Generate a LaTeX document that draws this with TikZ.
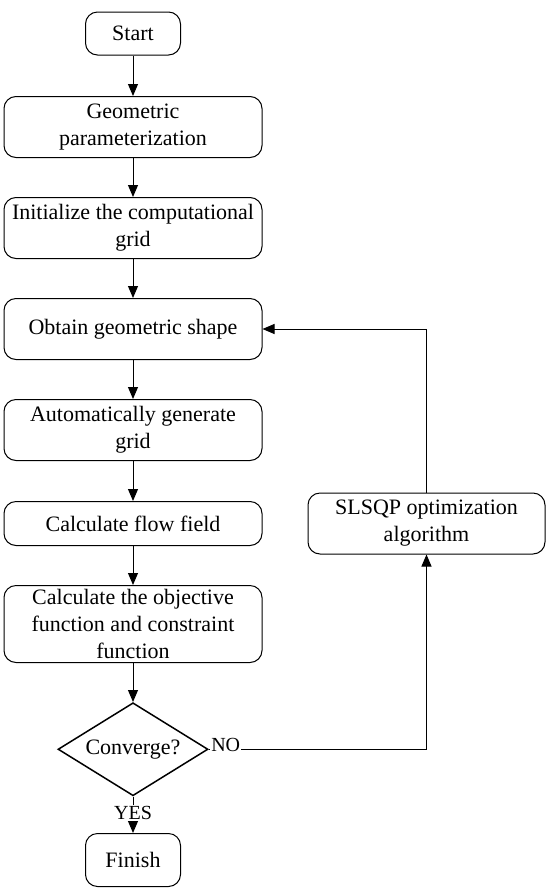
\documentclass[tikz,border=0pt]{standalone}
\usepackage{fontspec}
\setmainfont{Liberation Serif}
\usetikzlibrary{arrows.meta,positioning,shapes.geometric}

\begin{document}
\begin{tikzpicture}[
  x=1pt, y=1pt,
  node distance=39pt,
  font=\fontsize{22}{27}\selectfont,
  box/.style={rectangle, rounded corners=12pt, draw, line width=1pt, align=center, minimum width=258pt, minimum height=61pt, inner xsep=2pt, inner ysep=1pt},
  termbox/.style={rectangle, rounded corners=12pt, draw, line width=1pt, align=center, minimum width=95pt, minimum height=43pt},
  decision/.style={diamond, draw, line width=1.5pt, shape aspect=1.6, inner sep=0pt, minimum width=150pt, minimum height=93pt},
  lbl/.style={font=\fontsize{20}{22}\selectfont, inner sep=1pt},
  arrow/.style={-{Triangle[length=12pt,width=10pt]}, line width=1pt}
]
\useasboundingbox (0,0) rectangle (550,-892);

\node[termbox] (start) at (133,-33.5) {Start};
\node[box, below=40.5pt of start] (param) {Geometric\\parameterization};
\node[box, below=of param] (init) {Initialize the computational\\grid};
\node[box, below=of init] (shape) {Obtain geometric shape};
\node[box, below=of shape] (mesh) {Automatically generate\\grid};
\node[box, below=40pt of mesh, minimum height=44pt] (flow) {Calculate flow field};
\node[box, below=of flow, minimum height=77pt] (objective) {Calculate the objective\\function and constraint\\function};
\node[decision, below=of objective] (conv) {Converge?};
\node[termbox, below=36.5pt of conv, minimum height=53pt] (finish) {Finish};

\node[box, right=45pt of flow, minimum width=237pt, minimum height=61pt] (slsqp) {SLSQP optimization\\algorithm};

\draw[arrow] (start) -- (param);
\draw[arrow] (param) -- (init);
\draw[arrow] (init) -- (shape);
\draw[arrow] (shape) -- (mesh);
\draw[arrow] (mesh) -- (flow);
\draw[arrow] (flow) -- (objective);
\draw[arrow] (objective) -- (conv);
\draw[arrow] (conv) -- node[lbl, fill=white, pos=0.45] {YES} (finish);

\draw[arrow] (conv.east) -| node[lbl, fill=white, pos=0, anchor=base west, xshift=1pt, yshift=-2pt] {NO} (slsqp.south);
\draw[arrow] (slsqp.north) |- (shape.east);

\end{tikzpicture}
\end{document}
